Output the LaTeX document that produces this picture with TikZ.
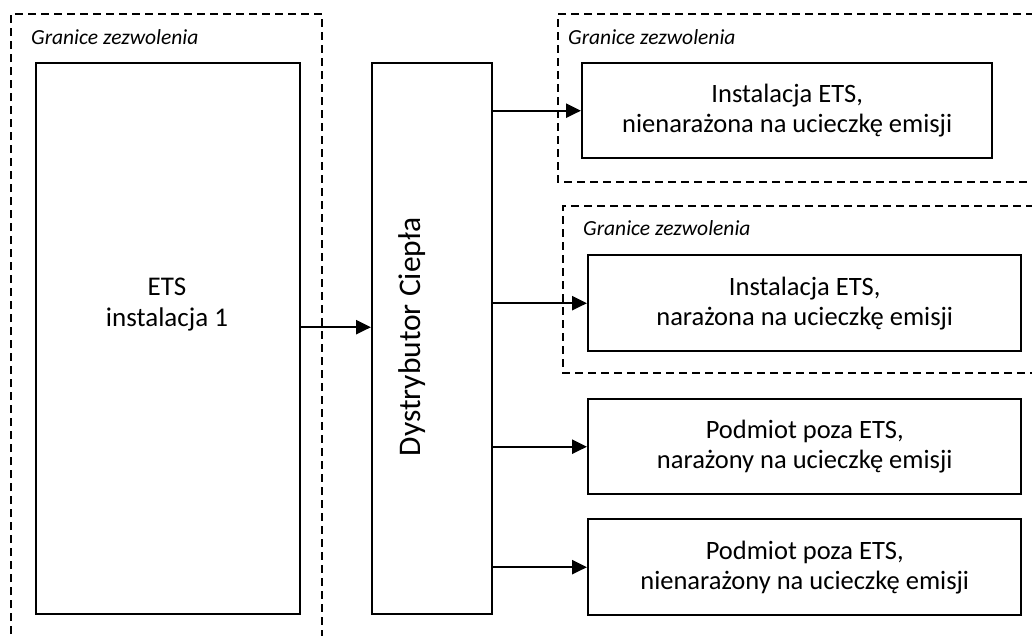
\documentclass[tikz,border=0pt]{standalone}
\usepackage{fontspec}
\setmainfont{Carlito}
\usetikzlibrary{arrows.meta}
\begin{document}
\begin{tikzpicture}[x=1pt,y=-1pt,
  box/.style={draw, line width=2.4pt, anchor=north west, inner sep=0pt},
  bound/.style={draw, line width=2pt, dash pattern=on 8pt off 5pt},
  arr/.style={line width=2.4pt, -{Triangle[length=15pt,width=14pt]}},
  maintext/.style={align=center, inner sep=0pt, font=\fontsize{26.5}{30}\selectfont},
  lbl/.style={anchor=base west, inner sep=0pt, font=\fontsize{21.5}{25}\selectfont\itshape}]
\useasboundingbox (0,0) rectangle (1032,635);
\clip (0,0) rectangle (1032,635);
% permit boundaries
\draw[bound] (11,660) -- (11,14) -- (322,14) -- (322,660);
\draw[bound] (1060,14) -- (558,14) -- (558,182) -- (1060,182);
\draw[bound] (1060,206) -- (563,206) -- (563,373) -- (1060,373);
\node[lbl] (l1) at (31,44) {Granice zezwolenia};
\node[lbl] (l2) at (568,44) {Granice zezwolenia};
\node[lbl] (l3) at (583,235) {Granice zezwolenia};
% boxes
\node[box, minimum width=264pt, minimum height=551pt] (ets) at (35,62) {};
\node[maintext, font=\fontsize{27}{31}\selectfont] (etst) at (167,305) {ETS\\instalacja 1};
\node[box, minimum width=120pt, minimum height=551pt] (dist) at (371,62) {};
\node[inner sep=0pt, rotate=90, font=\fontsize{31.5}{36}\selectfont] (distt) at (412,337) {Dystrybutor Ciepła};
\node[box, minimum width=410pt, minimum height=95pt] (b1) at (581,62) {};
\node[maintext] (b1t) at (b1.center) {Instalacja ETS,\\nienarażona na ucieczkę emisji};
\node[box, minimum width=433pt, minimum height=96pt] (b2) at (587,254) {};
\node[maintext] (b2t) at (b2.center) {Instalacja ETS,\\narażona na ucieczkę emisji};
\node[box, minimum width=433pt, minimum height=95pt] (b3) at (587,398) {};
\node[maintext] (b3t) at (b3.center) {Podmiot poza ETS,\\narażony na ucieczkę emisji};
\node[box, minimum width=433pt, minimum height=96pt] (b4) at (587,518) {};
\node[maintext] (b4t) at (b4.center) {Podmiot poza ETS,\\nienarażony na ucieczkę emisji};
% connectors
\draw[arr] ([yshift=11.5pt]ets.east) coordinate (a0) -- (a0 -| dist.west);
\draw[arr] (dist.east |- b1.west) -- (b1.west);
\draw[arr] (dist.east |- b2.west) -- (b2.west);
\draw[arr] (dist.east |- b3.west) -- (b3.west);
\draw[arr] (dist.east |- b4.west) -- (b4.west);
\end{tikzpicture}
\end{document}
